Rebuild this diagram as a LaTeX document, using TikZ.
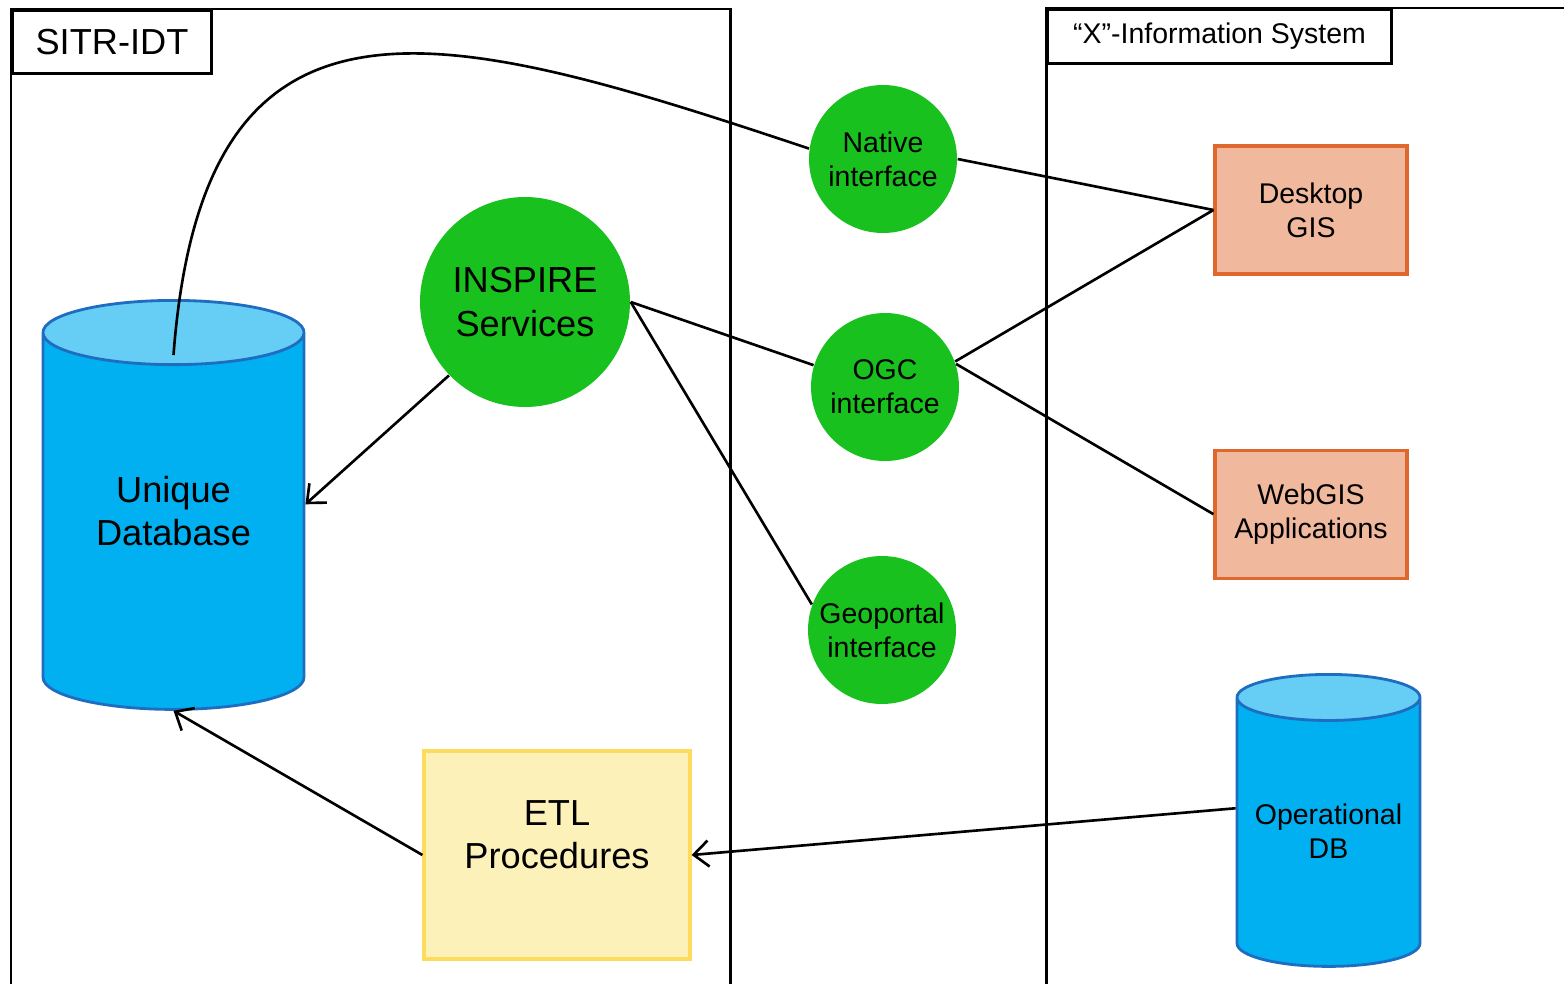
\documentclass[tikz,border=0pt]{standalone}
\usepackage{fontspec}
\setmainfont{Liberation Sans}
\usetikzlibrary{shapes.geometric, positioning, arrows.meta}
\definecolor{ifgreen}{RGB}{25,193,30}
\definecolor{dbbody}{RGB}{0,176,240}
\definecolor{dbtop}{RGB}{102,206,245}
\definecolor{dbedge}{RGB}{31,109,192}
\definecolor{appfill}{RGB}{240,185,157}
\definecolor{appedge}{RGB}{222,104,46}
\definecolor{etlfill}{RGB}{252,241,185}
\definecolor{etledge}{RGB}{252,220,90}
\tikzset{
  >={Straight Barb[length=1.5mm,width=2.6mm]},
  bigfont/.style={font=\fontsize{10.3}{12.3}\selectfont},
  smallfont/.style={font=\fontsize{8.1}{9.7}\selectfont},
  frame/.style={line width=0.85pt},
  syslabel/.style={draw, fill=white, line width=0.85pt, anchor=north west, inner sep=0pt},
  iface/.style={circle, fill=ifgreen, minimum size=1.48cm, inner sep=0pt, align=center, smallfont},
  app/.style={rectangle, draw=appedge, fill=appfill, line width=0.9pt, minimum width=1.92cm, minimum height=1.28cm, align=center, smallfont},
  db/.style={cylinder, shape border rotate=90, anchor=top, draw=dbedge, line width=0.8pt,
    cylinder uses custom fill, cylinder body fill=dbbody, cylinder end fill=dbtop, align=center},
  link/.style={line width=0.75pt},
}
\begin{document}
\begin{tikzpicture}
  \useasboundingbox (0,0) rectangle (15.64,-9.84);

  % the two systems
  \draw[frame] (0.11,-9.9) |- (7.30,-0.09) -- (7.30,-9.9);
  \draw[frame] (10.46,-9.9) |- (15.7,-0.08);
  \node[syslabel, minimum width=1.99cm, minimum height=0.63cm, bigfont] (sitr) at (0.11,-0.09) {SITR-IDT};
  \node[syslabel, minimum width=3.44cm, minimum height=0.54cm, smallfont] (xis) at (10.46,-0.08) {“X”-Information System};

  % SITR-IDT side
  \node[db, aspect=0.36, minimum width=2.61cm, minimum height=4.09cm, bigfont] (udb) at (1.735,-2.99) {Unique\\Database\\[-2.2mm]\strut};
  \node[circle, fill=ifgreen, minimum size=2.10cm, inner sep=0pt, align=center, bigfont] (inspire) at (5.25,-3.02) {INSPIRE\\Services};
  \node[rectangle, draw=etledge, fill=etlfill, line width=0.9pt, minimum width=2.66cm, minimum height=2.08cm, align=center, bigfont] (etl) at (5.57,-8.55) {ETL\\Procedures\\[-1.5mm]\strut};

  % interfaces
  \node[iface] (native) at (8.83,-1.59) {Native\\interface};
  \node[iface] (ogc) at (8.85,-3.87) {OGC\\interface};
  \node[iface] (geo) at (8.82,-6.30) {Geoportal\\interface};

  % "X" side
  \node[app] (desk) at (13.11,-2.10) {Desktop\\GIS};
  \node[app, below=1.73cm of desk] (webgis) {WebGIS\\Applications};
  \node[db, aspect=0.27, minimum width=1.83cm, minimum height=2.92cm, smallfont] (opdb) at (13.285,-6.73) {Operational\\DB\\[-3mm]\strut};

  \draw[link] ([yshift=-5.6mm]udb.top) .. controls +(0.30,3.95) and +(-3.71,1.24) .. (native.172);
  \draw[link] (native.east) -- (desk.west);
  \draw[link] (ogc.20) -- (desk.west);
  \draw[link] (ogc.18) -- (webgis.west);
  \draw[link] (inspire.east) -- (ogc.163);
  \draw[link] (inspire.east) -- (geo.160);
  \draw[link,->] (inspire.224) -- ([yshift=2.4mm]udb.east);
  \draw[link,->] (etl.west) -- (udb.bottom);
  \draw[link,->] ([yshift=3mm]opdb.west) -- (etl.east);
\end{tikzpicture}
\end{document}
